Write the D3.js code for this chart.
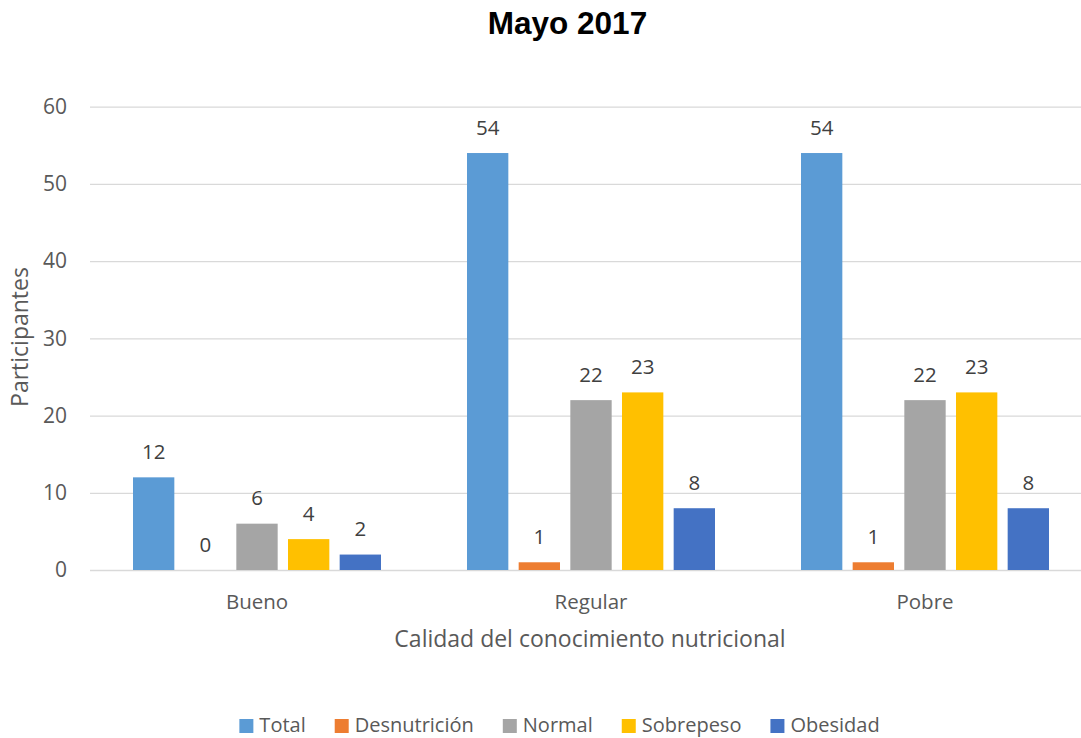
<!DOCTYPE html>
<html>
<head>
<meta charset="utf-8">
<script src="https://cdn.jsdelivr.net/npm/d3@7"></script>
<style>
  html, body { margin: 0; padding: 0; background: #fff; }
  svg { display: block; }
</style>
</head>
<body>
<svg id="chart" width="1081" height="738"></svg>
<script>
// Nutritional knowledge quality vs. nutritional status, May 2017
const categories = ["Bueno", "Regular", "Pobre"];
const seriesNames = ["Total", "Desnutrición", "Normal", "Sobrepeso", "Obesidad"];
const total        = [12, 54, 54];
const desnutricion = [0, 1, 1];
const normal       = [6, 22, 22];
const sobrepeso    = [4, 23, 23];
const obesidad     = [2, 8, 8];
const yTicks = [0, 10, 20, 30, 40, 50, 60];
const colors = ["#5b9bd5", "#ed7d31", "#a5a5a5", "#ffc000", "#4472c4"];

const seriesValues = [total, desnutricion, normal, sobrepeso, obesidad];
const rows = categories.map((c, i) => ({
  category: c,
  values: seriesNames.map((s, j) => ({ key: s, value: seriesValues[j][i], color: colors[j] }))
}));

const svg = d3.select("#chart");
const W = 1081;
const FONT = "'Open Sans', 'Noto Sans', sans-serif";

const x0 = d3.scaleBand().domain(categories).range([90, 1092]).padding(0);
const x1 = d3.scaleBand().domain(seriesNames).range([43, 291]).paddingInner(0.2);
const y = d3.scaleLinear().domain([0, 60]).range([570, 106.7]);

// Title
svg.append("text")
  .attr("x", 567.5).attr("y", 34)
  .attr("text-anchor", "middle")
  .attr("font-family", "'Liberation Sans', Arial, sans-serif")
  .attr("font-weight", "bold")
  .attr("font-size", 31.5)
  .attr("fill", "#000")
  .text("Mayo 2017");

// Gridlines + y tick labels
const yAxis = d3.axisLeft(y).tickValues(yTicks).tickSize(-(W - 90)).tickPadding(23);
const gy = svg.append("g").attr("transform", "translate(90,0)").call(yAxis);
gy.select(".domain").remove();
gy.selectAll(".tick line").attr("stroke", "#d9d9d9").attr("stroke-width", 1.3);
gy.selectAll(".tick text")
  .attr("font-family", FONT).attr("font-size", 21).attr("fill", "#595959");

// Category axis labels
const xAxis = d3.axisBottom(x0).tickSize(0).tickPadding(24);
const gx = svg.append("g").attr("transform", "translate(0,570)").call(xAxis);
gx.select(".domain").remove();
gx.selectAll(".tick text")
  .attr("font-family", FONT).attr("font-size", 20.5).attr("fill", "#595959");

// Bars
const groups = svg.append("g").selectAll("g").data(rows).join("g")
  .attr("transform", d => `translate(${x0(d.category)},0)`);

groups.selectAll("rect").data(d => d.values).join("rect")
  .attr("x", d => x1(d.key))
  .attr("width", x1.bandwidth())
  .attr("y", d => y(d.value))
  .attr("height", d => y(0) - y(d.value))
  .attr("fill", d => d.color);

// Value labels
groups.selectAll("text.val").data(d => d.values).join("text")
  .attr("class", "val")
  .attr("x", d => x1(d.key) + x1.bandwidth() / 2)
  .attr("y", d => y(d.value) - 18.5)
  .attr("text-anchor", "middle")
  .attr("font-family", FONT).attr("font-size", 20.5).attr("fill", "#404040")
  .text(d => d.value);

// Axis titles
svg.append("text")
  .attr("x", 590).attr("y", 647)
  .attr("text-anchor", "middle")
  .attr("font-family", FONT).attr("font-size", 23).attr("fill", "#595959")
  .text("Calidad del conocimiento nutricional");

svg.append("text")
  .attr("transform", "translate(27.5,337) rotate(-90)")
  .attr("text-anchor", "middle")
  .attr("font-family", FONT).attr("font-size", 23).attr("fill", "#595959")
  .text("Participantes");

// Legend: items laid out from their text widths, centred under the plot
const legend = svg.append("g");
const items = legend.selectAll("g").data(seriesNames).join("g");
items.append("rect").attr("y", -13).attr("width", 14).attr("height", 14)
  .attr("fill", (d, i) => colors[i]);
items.append("text").attr("x", 20).attr("y", 0)
  .attr("font-family", FONT).attr("font-size", 20).attr("fill", "#595959")
  .text(d => d);
const gap = 29;
let cursor = 0;
const offsets = [];
items.each(function () {
  offsets.push(cursor);
  cursor += 20 + d3.select(this).select("text").node().getComputedTextLength() + gap;
});
const legendWidth = cursor - gap;
items.attr("transform", (d, i) => `translate(${offsets[i]},0)`);
legend.attr("transform", `translate(${559.5 - legendWidth / 2},732)`);
</script>
</body>
</html>
